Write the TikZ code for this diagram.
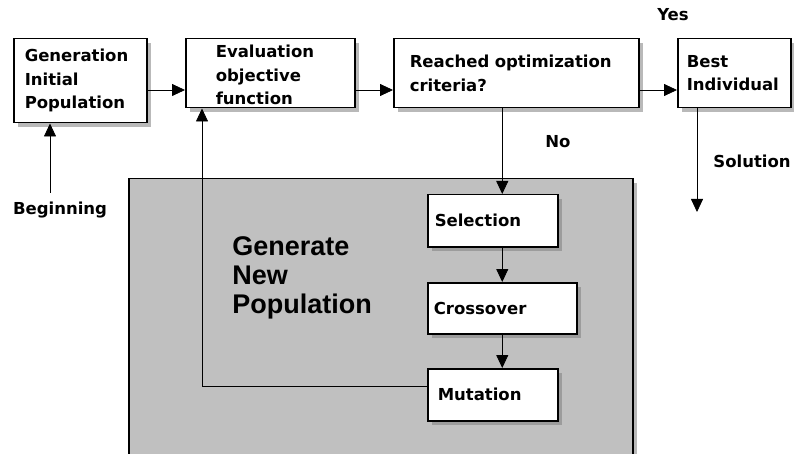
\documentclass[tikz,border=0pt]{standalone}
\usepackage{fontspec}
\setmainfont{DejaVu Sans}
\newfontfamily\bigfamily{Liberation Sans}
\usepackage{tikz}
\usetikzlibrary{positioning,arrows.meta,shadows}
\usepackage{xcolor}

\definecolor{popgray}{RGB}{192,192,192}
\newcommand{\boxfont}{\fontsize{16.5}{23.5}\selectfont\bfseries}
\newcommand{\bigtextfont}{\bigfamily\fontsize{27}{29}\selectfont\bfseries}

\tikzset{
  boxshadow/.style={drop shadow={shadow xshift=4pt, shadow yshift=-4pt, opacity=0.55}},
  stepbox/.style={draw, line width=1.5pt, fill=white, anchor=north west, align=left,
    inner ysep=0pt, font=\boxfont, boxshadow},
  label text/.style={font=\boxfont, inner sep=0pt},
}

\begin{document}
\begin{tikzpicture}[x=1pt, y=-1pt, >={Triangle[length=13pt,width=12pt]}, line width=0.8pt]
	\useasboundingbox (0,0) rectangle (794,454);
	
	% new population area
	\node [draw, line width=1.5pt, fill=popgray, anchor=north west, inner sep=0pt,
	  minimum width=504pt, minimum height=284pt, boxshadow] (newpop) at (128,178) {};
	\node [anchor=west, align=left, inner sep=0pt, font=\bigtextfont] (gentext) at (232,278)
	  {Generate\\New\\Population};
	
	% main flow
	\node [stepbox, minimum height=84pt, text width=111pt, inner xsep=11pt] (init) at (13,38)
	  {Generation\\Initial\\Population};
	\node [stepbox, minimum height=69pt, text width=109pt, inner xsep=30pt] (eval) at (185,38)
	  {\strut Evaluation\\objective\\function};
	\node [stepbox, minimum height=69pt, text width=213pt, inner xsep=16pt] (crit) at (393,38)
	  {Reached optimization\\criteria?};
	\node [stepbox, minimum height=69pt, text width=95pt, inner xsep=9pt] (best) at (677,38)
	  {Best\\Individual};
	
	% operators
	\node [stepbox, minimum height=52pt, text width=116pt, inner xsep=7pt] (sel) at (427,194) {Selection};
	\node [stepbox, minimum height=51pt, text width=137pt, inner xsep=6pt] (cross) at (427,282) {Crossover};
	\node [stepbox, minimum height=52pt, text width=110pt, inner xsep=10pt] (mut) at (427,368) {Mutation};
	
	% labels
	\node [label text] (begin) at (60,210) {Beginning};
	\node [label text] (yes) at (673,15) {Yes};
	\node [label text] (no) at (558,142) {No};
	\node [label text] (sol) at (752,161) {Solution};
	
	\coordinate (flow) at (0,90);
	\coordinate (solend) at (697,212);
	
	\foreach \a/\b in {init/eval, eval/crit, crit/best}
	  \draw [->] (\a.east |- flow) -- (\b.west |- flow);
	
	\foreach \a/\b in {crit/sel, sel/cross, cross/mut}
	  \draw [->] (cross.north |- \a.south) -- (cross.north |- \b.north);
	
	\draw [->] ([xshift=-10pt, yshift=9pt]begin.north) -- ([xshift=-10pt]begin.north |- init.south);
	\draw [->] ([yshift=8pt]mut.west) -| ([xshift=17pt]eval.south west);
	\draw [->] (best.south west -| solend) -- (solend);
	
\end{tikzpicture}
\end{document}
